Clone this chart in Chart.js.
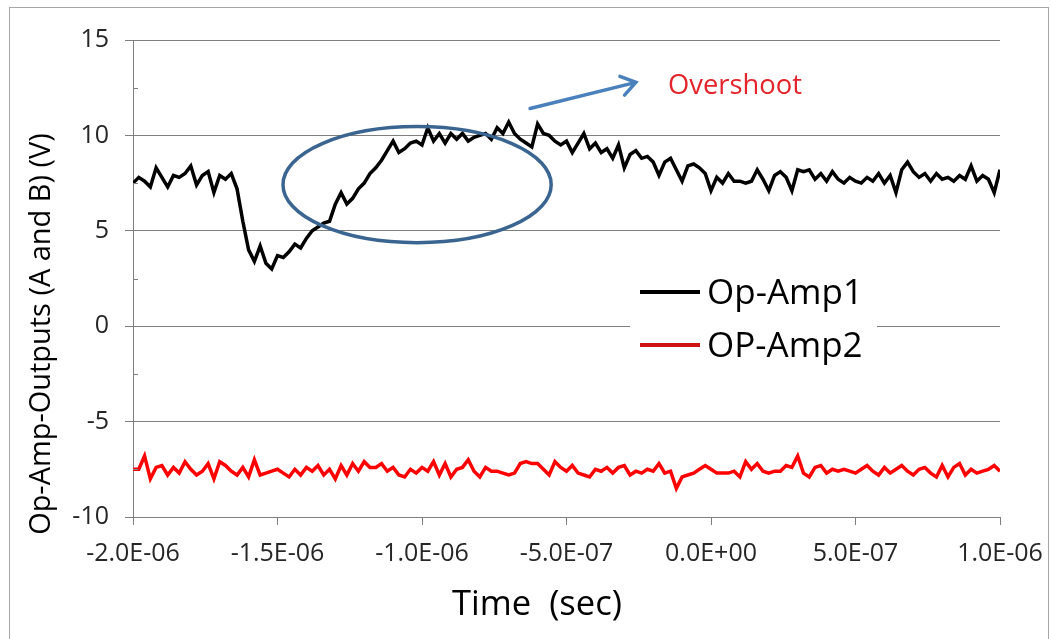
<!DOCTYPE html>
<html lang="en">
<head>
    <meta charset="UTF-8">
    <title>Op-Amp Outputs</title>
    <script src="https://cdn.jsdelivr.net/npm/chart.js@4"></script>
    <style>
        html, body { margin: 0; padding: 0; background: #fff; }
    </style>
</head>
<body>
    <canvas id="myChart" width="1051" height="639"></canvas>

    <script>
        // time axis: samples every 20 ns from -2.0E-06 to 1.0E-06
        const tStart = -2.0e-6;
        const tStep = 2.0e-8;

        // values (V)
        const opAmp1 = [
            7.5, 7.8, 7.6, 7.3, 8.3, 7.8, 7.3, 7.9, 7.8, 8.0,
            8.4, 7.4, 7.9, 8.1, 7.0, 7.9, 7.7, 8.0, 7.2, 5.5,
            4.0, 3.4, 4.2, 3.3, 3.0, 3.7, 3.6, 3.9, 4.3, 4.1,
            4.6, 5.0, 5.2, 5.4, 5.5, 6.4, 7.0, 6.4, 6.7, 7.2,
            7.5, 8.0, 8.3, 8.7, 9.2, 9.7, 9.1, 9.3, 9.6, 9.7,
            9.5, 10.4, 9.7, 10.1, 9.6, 10.1, 9.8, 10.1, 9.7, 9.9,
            10.0, 10.1, 9.8, 10.4, 10.1, 10.7, 10.1, 9.8, 9.6, 9.4,
            10.6, 10.1, 10.0, 9.7, 9.5, 9.7, 9.1, 9.6, 10.1, 9.3,
            9.6, 9.1, 9.3, 8.8, 9.5, 8.3, 9.0, 9.2, 8.8, 8.9,
            8.6, 7.9, 8.6, 8.8, 8.2, 7.6, 8.4, 8.5, 8.3, 8.0,
            7.1, 7.8, 7.5, 8.0, 7.6, 7.6, 7.5, 7.6, 8.2, 7.7,
            7.1, 7.9, 8.1, 7.8, 7.1, 8.2, 8.1, 8.2, 7.7, 8.0,
            7.6, 8.1, 7.7, 7.5, 7.8, 7.6, 7.5, 7.8, 7.6, 8.0,
            7.5, 7.9, 7.0, 8.2, 8.6, 8.1, 7.8, 8.0, 7.6, 8.0,
            7.7, 7.8, 7.6, 7.9, 7.7, 8.4, 7.6, 7.9, 7.7, 7.0,
            8.2
        ];
        const opAmp2 = [
            -7.5, -7.5, -6.8, -8.0, -7.4, -7.3, -7.8, -7.4, -7.7, -7.1,
            -7.5, -7.8, -7.6, -7.2, -8.0, -7.1, -7.3, -7.6, -7.8, -7.4,
            -7.9, -7.0, -7.8, -7.7, -7.6, -7.5, -7.7, -7.9, -7.5, -7.8,
            -7.4, -7.6, -7.3, -7.8, -7.5, -8.0, -7.3, -7.8, -7.2, -7.6,
            -7.1, -7.4, -7.4, -7.2, -7.6, -7.4, -7.8, -7.9, -7.5, -7.7,
            -7.4, -7.6, -7.1, -7.8, -7.2, -7.9, -7.5, -7.4, -7.0, -7.6,
            -7.9, -7.4, -7.6, -7.6, -7.7, -7.8, -7.7, -7.2, -7.1, -7.2,
            -7.2, -7.5, -7.8, -7.1, -7.4, -7.6, -7.3, -7.7, -7.8, -7.9,
            -7.5, -7.6, -7.4, -7.7, -7.4, -7.3, -7.8, -7.6, -7.7, -7.5,
            -7.6, -7.2, -7.7, -7.6, -8.5, -7.9, -7.8, -7.7, -7.5, -7.3,
            -7.5, -7.7, -7.7, -7.7, -7.6, -7.9, -7.1, -7.5, -7.2, -7.6,
            -7.7, -7.6, -7.6, -7.3, -7.4, -6.8, -7.7, -7.9, -7.4, -7.3,
            -7.7, -7.5, -7.6, -7.5, -7.6, -7.7, -7.5, -7.3, -7.6, -7.8,
            -7.4, -7.7, -7.5, -7.3, -7.6, -7.8, -7.5, -7.4, -7.7, -7.9,
            -7.3, -7.9, -7.4, -7.2, -7.8, -7.5, -7.7, -7.6, -7.5, -7.3,
            -7.6
        ];

        const seriesNames = ['Op-Amp1', 'OP-Amp2'];
        const seriesColors = ['#000000', '#ff0000'];

        // axis settings
        const xMin = -2.0e-6, xMax = 1.0e-6, xStepTick = 5.0e-7;
        const yMin = -10, yMax = 15, yStepTick = 5;
        const xTitle = 'Time  (sec)';
        const yTitle = 'Op-Amp-Outputs (A and B) (V)';

        // overshoot callout, in data units
        const ring = { x: -1.017e-6, y: 7.42, rx: 4.64e-7, ry: 3.04 };
        const arrow = { x1: -6.26e-7, y1: 11.41, x2: -2.6e-7, y2: 12.78 };
        const note = { text: 'Overshoot', x: -1.49e-7, y: 12.57 };

        const FONT = "'Open Sans', 'DejaVu Sans', sans-serif";

        function toPoints(vals) {
            return vals.map((v, i) => ({ x: tStart + i * tStep, y: v }));
        }

        // 1.0E-06 style labels
        function sci(v) {
            if (Math.abs(v) < 1e-12) return '0.0E+00';
            const s = Number(v).toExponential(1).toUpperCase();
            return s.replace(/E([+-])(\d+)$/, (m, sg, d) => 'E' + sg + d.padStart(2, '0'));
        }

        // font size that makes text a given width
        function fitFont(ctx, text, width) {
            ctx.font = '100px ' + FONT;
            return 100 * width / ctx.measureText(text).width;
        }

        const extras = {
            id: 'extras',
            beforeDraw(chart) {
                const ctx = chart.ctx;
                ctx.save();
                ctx.strokeStyle = '#a6a6a6';
                ctx.lineWidth = 1;
                ctx.strokeRect(9.5, 7.5, 1039, 640);
                ctx.restore();
            },
            afterDatasetsDraw(chart) {
                const ctx = chart.ctx;
                const xs = chart.scales.x, ys = chart.scales.y;
                const area = chart.chartArea;
                ctx.save();

                // small inside ticks between the major ones
                ctx.strokeStyle = '#7f7f7f';
                ctx.lineWidth = 1;
                for (let v = yMin + yStepTick / 2; v < yMax; v += yStepTick) {
                    const py = Math.round(ys.getPixelForValue(v)) + 0.5;
                    ctx.beginPath();
                    ctx.moveTo(area.left, py);
                    ctx.lineTo(area.left + 5, py);
                    ctx.stroke();
                }

                // ellipse
                const cx = xs.getPixelForValue(ring.x), cy = ys.getPixelForValue(ring.y);
                const rx = xs.getPixelForValue(ring.x + ring.rx) - cx;
                const ry = cy - ys.getPixelForValue(ring.y + ring.ry);
                ctx.strokeStyle = '#3a6591';
                ctx.lineWidth = 3.5;
                ctx.beginPath();
                ctx.ellipse(cx, cy, rx, ry, 0, 0, Math.PI * 2);
                ctx.stroke();

                // arrow
                const ax1 = xs.getPixelForValue(arrow.x1), ay1 = ys.getPixelForValue(arrow.y1);
                const ax2 = xs.getPixelForValue(arrow.x2), ay2 = ys.getPixelForValue(arrow.y2);
                const ang = Math.atan2(ay2 - ay1, ax2 - ax1);
                ctx.strokeStyle = '#4a80bb';
                ctx.lineWidth = 3.5;
                ctx.lineCap = 'round';
                ctx.beginPath();
                ctx.moveTo(ax1, ay1);
                ctx.lineTo(ax2, ay2);
                ctx.moveTo(ax2 - 17 * Math.cos(ang - 0.6), ay2 - 17 * Math.sin(ang - 0.6));
                ctx.lineTo(ax2, ay2);
                ctx.lineTo(ax2 - 17 * Math.cos(ang + 0.6), ay2 - 17 * Math.sin(ang + 0.6));
                ctx.stroke();

                // note text
                let fs = fitFont(ctx, note.text, 134);
                ctx.font = fs + 'px ' + FONT;
                ctx.fillStyle = '#e3242b';
                ctx.textAlign = 'left';
                ctx.textBaseline = 'middle';
                ctx.fillText(note.text, xs.getPixelForValue(note.x), ys.getPixelForValue(note.y));

                // legend box
                const lx = 630, ly = 264;
                ctx.fillStyle = '#ffffff';
                ctx.fillRect(lx, ly, 247, 108);
                fs = fitFont(ctx, seriesNames[0], 156);
                ctx.font = fs + 'px ' + FONT;
                ctx.fillStyle = '#000';
                seriesNames.forEach((name, i) => {
                    const y = ly + 28 + i * 53;
                    ctx.strokeStyle = seriesColors[i] === '#ff0000' ? '#d01414' : seriesColors[i];
                    ctx.lineWidth = 4;
                    ctx.lineCap = 'butt';
                    ctx.beginPath();
                    ctx.moveTo(lx + 10, y);
                    ctx.lineTo(lx + 70, y);
                    ctx.stroke();
                    ctx.fillText(name, lx + 77, y + 2);
                });
                ctx.restore();
            },
            afterDraw(chart) {
                const ctx = chart.ctx;
                ctx.save();
                ctx.fillStyle = '#000';
                ctx.textAlign = 'center';
                ctx.textBaseline = 'middle';
                let fs = fitFont(ctx, xTitle, 170);
                ctx.font = fs + 'px ' + FONT;
                ctx.fillText(xTitle, 537, 605);

                fs = fitFont(ctx, yTitle, 402);
                ctx.font = fs + 'px ' + FONT;
                ctx.translate(42, 334);
                ctx.rotate(-Math.PI / 2);
                ctx.fillText(yTitle, 0, 0);
                ctx.restore();
            }
        };

        const ctx = document.getElementById('myChart').getContext('2d');
        const chart = new Chart(ctx, {
            type: 'line',
            data: {
                datasets: [
                    {
                        label: seriesNames[0],
                        data: toPoints(opAmp1),
                        borderColor: seriesColors[0],
                        borderWidth: 3.5,
                        pointRadius: 0,
                        tension: 0
                    },
                    {
                        label: seriesNames[1],
                        data: toPoints(opAmp2),
                        borderColor: seriesColors[1],
                        borderWidth: 3.5,
                        pointRadius: 0,
                        tension: 0
                    }
                ]
            },
            options: {
                responsive: false,
                animation: false,
                layout: { padding: { top: 40, right: 51, left: 0, bottom: 0 } },
                plugins: {
                    legend: { display: false },
                    tooltip: { enabled: false }
                },
                scales: {
                    x: {
                        type: 'linear',
                        min: xMin,
                        max: xMax,
                        afterFit(scale) {
                            scale.height = 122;
                            scale.paddingLeft = 0;
                            scale.paddingRight = 0;
                        },
                        grid: {
                            drawOnChartArea: false,
                            drawTicks: true,
                            tickLength: 8,
                            color: '#7f7f7f'
                        },
                        border: { color: '#7f7f7f', width: 1 },
                        ticks: {
                            stepSize: xStepTick,
                            maxRotation: 0,
                            autoSkip: false,
                            padding: 14,
                            color: '#262626',
                            font: { family: FONT, size: 25 },
                            callback: (v) => sci(v)
                        }
                    },
                    y: {
                        min: yMin,
                        max: yMax,
                        afterFit(scale) { scale.width = 133; },
                        grid: {
                            color: '#7f7f7f',
                            lineWidth: 1,
                            drawTicks: true,
                            tickLength: 8
                        },
                        border: { color: '#7f7f7f', width: 1 },
                        ticks: {
                            stepSize: yStepTick,
                            padding: 16,
                            color: '#262626',
                            font: { family: FONT, size: 25 }
                        }
                    }
                }
            },
            plugins: [extras]
        });
    </script>
</body>
</html>
